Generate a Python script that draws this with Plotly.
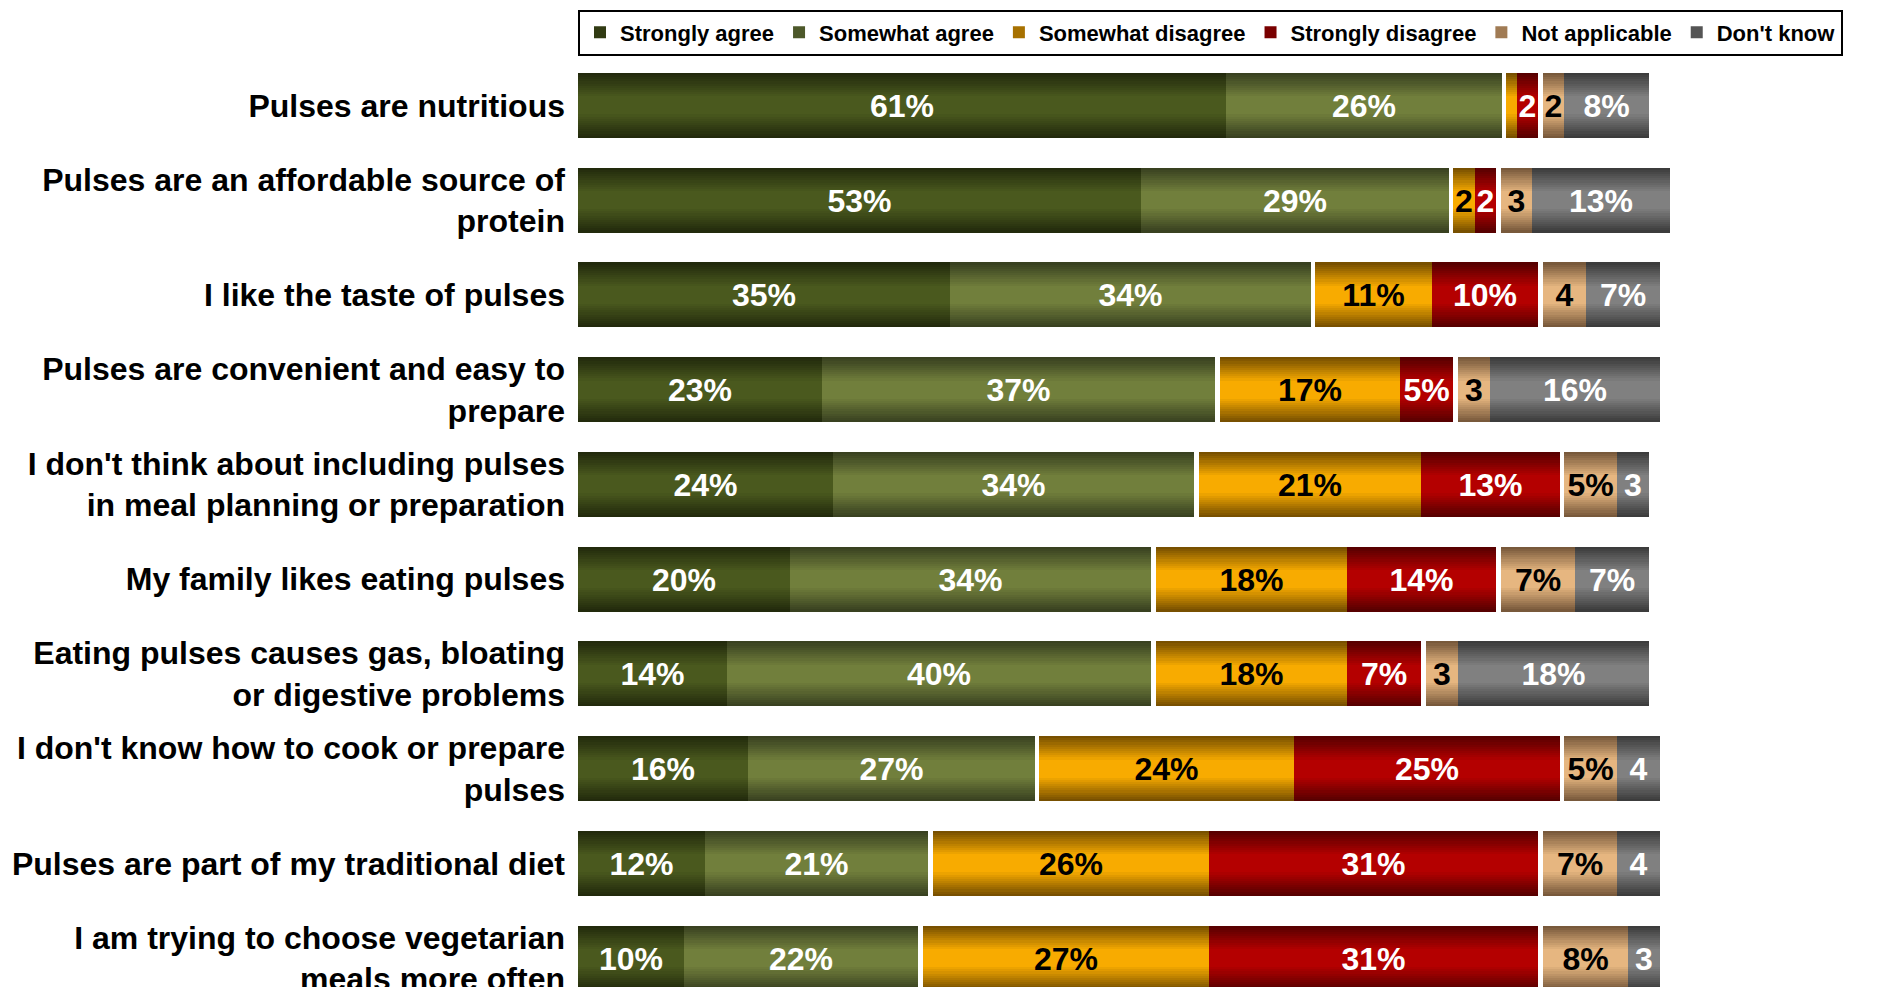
import plotly.graph_objects as go

# Survey statements (top to bottom)
categories = [
    "Pulses are nutritious",
    "Pulses are an affordable source of<br>protein",
    "I like the taste of pulses",
    "Pulses are convenient and easy to<br>prepare",
    "I don't think about including pulses<br>in meal planning or preparation",
    "My family likes eating pulses",
    "Eating pulses causes gas, bloating<br>or digestive problems",
    "I don't know how to cook or prepare<br>pulses",
    "Pulses are part of my traditional diet",
    "I am trying to choose vegetarian<br>meals more often",
]

# Response shares (%)
strongly_agree = [61, 53, 35, 23, 24, 20, 14, 16, 12, 10]
somewhat_agree = [26, 29, 34, 37, 34, 34, 40, 27, 21, 22]
somewhat_disagree = [1, 2, 11, 17, 21, 18, 18, 24, 26, 27]
strongly_disagree = [2, 2, 10, 5, 13, 14, 7, 25, 31, 31]
not_applicable = [2, 3, 4, 3, 5, 7, 3, 5, 7, 8]
dont_know = [8, 13, 7, 16, 3, 7, 18, 4, 4, 3]

# name, values, edge colour, centre colour, label colour, group
series = [
    ("Strongly agree", strongly_agree, "#222a0c", "#4a591e", "white", 0),
    ("Somewhat agree", somewhat_agree, "#394120", "#717f3c", "white", 0),
    ("Somewhat disagree", somewhat_disagree, "#785000", "#f8ab00", "black", 1),
    ("Strongly disagree", strongly_disagree, "#580000", "#b40000", "white", 1),
    ("Not applicable", not_applicable, "#78593b", "#e6b680", "black", 2),
    ("Don't know", dont_know, "#3c3c3c", "#808080", "white", 2),
]

GAP = 0.45          # white gap between response groups
BAR_W = 0.686       # bar thickness (category units)
N_LAYERS = 12       # layers used to shade each bar


def hex_to_rgb(h):
    h = h.lstrip("#")
    return tuple(int(h[i:i + 2], 16) for i in (0, 2, 4))


def mix(c1, c2, t):
    a, b = hex_to_rgb(c1), hex_to_rgb(c2)
    return "rgb({},{},{})".format(*[round(a[k] + (b[k] - a[k]) * t) for k in range(3)])


def label(v):
    if v >= 5:
        return f"{v}%"
    if v >= 2:
        return str(v)
    return ""


# stacked bases, with a gap whenever the response group changes
bases = []
n = len(categories)
running = [0.0] * n
prev_group = 0
for name, vals, _, _, _, grp in series:
    if grp != prev_group:
        running = [r + GAP for r in running]
        prev_group = grp
    bases.append(list(running))
    running = [r + v for r, v in zip(running, vals)]

fig = go.Figure()

for (name, vals, edge, centre, tcol, grp), base in zip(series, bases):
    for i in range(N_LAYERS):
        t = i / (N_LAYERS - 1)
        frac = 1 - 0.72 * t
        fig.add_trace(go.Bar(
            y=categories, x=vals, base=base, orientation="h",
            width=BAR_W * frac,
            marker=dict(color=mix(edge, centre, t), line=dict(width=0)),
            name=f"<b>{name}</b>",
            showlegend=(i == N_LAYERS // 3),
            legendgroup=name,
            hoverinfo="skip",
        ))
    # value labels
    fig.add_trace(go.Bar(
        y=categories, x=vals, base=base, orientation="h",
        width=BAR_W,
        marker=dict(color="rgba(0,0,0,0)", line=dict(width=0)),
        text=[label(v) for v in vals],
        textposition="inside",
        insidetextanchor="middle",
        textangle=0,
        constraintext="none",
        textfont=dict(color=tcol, size=32, family="Liberation Sans", weight="bold"),
        showlegend=False,
        legendgroup=name,
        hoverinfo="skip",
    ))

fig.update_layout(
    width=1877, height=987,
    margin=dict(l=578, r=25, t=58, b=0),
    barmode="overlay",
    bargap=0,
    plot_bgcolor="white",
    paper_bgcolor="white",
    font=dict(family="Liberation Sans", color="black", weight="bold"),
    legend=dict(
        orientation="h",
        x=0, xanchor="left",
        y=1.0522, yanchor="top",
        bordercolor="black", borderwidth=2,
        bgcolor="white",
        font=dict(size=22, family="Liberation Sans", weight="bold"),
        itemwidth=30,
        traceorder="normal",
    ),
    xaxis=dict(range=[0, 120], visible=False, fixedrange=True, automargin=False),
    yaxis=dict(
        type="category",
        categoryorder="array", categoryarray=categories,
        range=[9.305, -0.5],
        automargin=False,
        showgrid=False, zeroline=False, showline=False,
        ticks="", ticklabelstandoff=12,
        tickfont=dict(size=32, family="Liberation Sans", weight="bold", color="black"),
    ),
)

fig.write_html("out.html")
